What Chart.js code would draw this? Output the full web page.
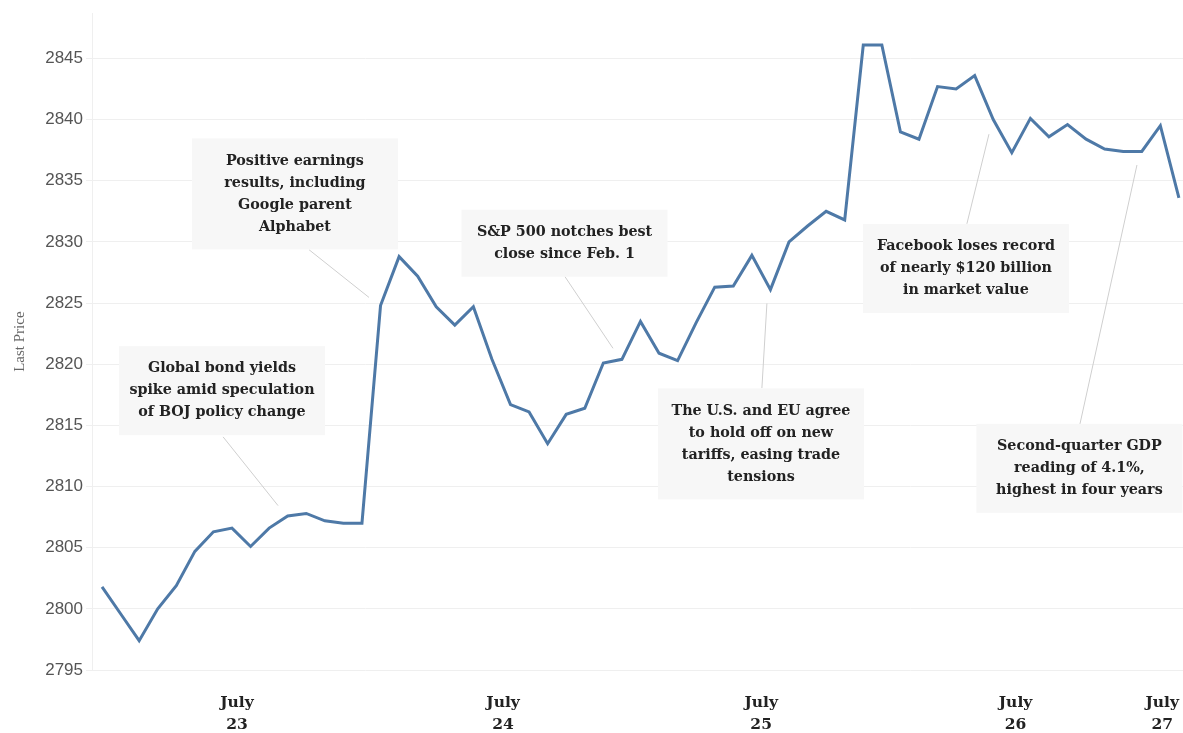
<!DOCTYPE html>
<html lang="en">
<head>
<meta charset="UTF-8">
<title>S&amp;P 500 last price</title>
<script src="https://cdn.jsdelivr.net/npm/chart.js@4"></script>
<style>
    body { margin: 0; background: #ffffff; }
    #wrap { width: 1183px; height: 733px; position: relative; }
</style>
</head>
<body>
<div id="wrap"><canvas id="priceChart" width="1183" height="733"></canvas></div>
<script>
// Last price readings, one per interval, July 23 - July 27
const prices = [
    2801.8, 2799.6, 2797.4, 2800.0, 2801.9, 2804.7, 2806.3, 2806.6, 2805.1, 2806.6,
    2807.6, 2807.8, 2807.2, 2807.0, 2807.0, 2824.8, 2828.8, 2827.2, 2824.7, 2823.2,
    2824.7, 2820.4, 2816.7, 2816.1, 2813.5, 2815.9, 2816.4, 2820.1, 2820.4, 2823.5,
    2820.9, 2820.3, 2823.4, 2826.3, 2826.4, 2828.9, 2826.1, 2830.0, 2831.3, 2832.5,
    2831.8, 2846.1, 2846.1, 2839.0, 2838.4, 2842.7, 2842.5, 2843.6, 2840.0, 2837.3,
    2840.1, 2838.6, 2839.6, 2838.4, 2837.6, 2837.4, 2837.4, 2839.5, 2833.6
];

// day labels and where they sit along the interval axis
const dayTickPos = [7.27, 21.6, 35.5, 49.2, 57.1];
const dayTickLabels = [['July', '23'], ['July', '24'], ['July', '25'], ['July', '26'], ['July', '27']];

const yTicks = [2795, 2800, 2805, 2810, 2815, 2820, 2825, 2830, 2835, 2840, 2845];

// annotation text, box centre and leader line, in data units
const notes = [
    { text: ['Global bond yields', 'spike amid speculation', 'of BOJ policy change'],
      x: 6.46, y: 2817.84, from: [6.52, 2814.06], to: [9.48, 2808.44] },
    { text: ['Positive earnings', 'results, including', 'Google parent', 'Alphabet'],
      x: 10.39, y: 2833.93, from: [11.15, 2829.36], to: [14.38, 2825.46] },
    { text: ['S&P 500 notches best', 'close since Feb. 1'],
      x: 24.91, y: 2829.89, from: [24.93, 2827.17], to: [27.52, 2821.30] },
    { text: ['The U.S. and EU agree', 'to hold off on new', 'tariffs, easing trade', 'tensions'],
      x: 35.49, y: 2813.49, from: [35.54, 2818.05], to: [35.81, 2824.97] },
    { text: ['Facebook loses record', 'of nearly $120 billion', 'in market value'],
      x: 46.53, y: 2827.82, from: [46.58, 2831.48], to: [47.77, 2838.81] },
    { text: ['Second-quarter GDP', 'reading of 4.1%,', 'highest in four years'],
      x: 52.64, y: 2811.49, from: [52.67, 2815.11], to: [55.74, 2836.29] }
];

const SERIF = '"DejaVu Serif", "Liberation Serif", serif';

// draws the grey boxes and leader lines behind the price line
const notesPlugin = {
    id: 'notes',
    beforeDatasetsDraw(chart) {
        const ctx = chart.ctx;
        const xs = chart.scales.x, ys = chart.scales.y;
        ctx.save();
        notes.forEach(n => {
            const lineH = 22;
            const w = 206, h = n.text.length * lineH + 23;
            const cx = xs.getPixelForValue(n.x), cy = ys.getPixelForValue(n.y);

            ctx.strokeStyle = '#cfcfcf';
            ctx.lineWidth = 1;
            ctx.beginPath();
            ctx.moveTo(xs.getPixelForValue(n.from[0]), ys.getPixelForValue(n.from[1]));
            ctx.lineTo(xs.getPixelForValue(n.to[0]), ys.getPixelForValue(n.to[1]));
            ctx.stroke();

            ctx.fillStyle = '#f7f7f7';
            ctx.fillRect(cx - w / 2, cy - h / 2, w, h);

            ctx.fillStyle = '#222222';
            ctx.font = 'bold 14.3px ' + SERIF;
            ctx.textAlign = 'center';
            ctx.textBaseline = 'middle';
            const top = cy - (n.text.length - 1) * lineH / 2;
            n.text.forEach((t, i) => ctx.fillText(t, cx, top + i * lineH));
        });
        ctx.restore();
    }
};

const ctx = document.getElementById('priceChart').getContext('2d');
new Chart(ctx, {
    type: 'line',
    data: {
        datasets: [{
            data: prices.map((p, i) => ({ x: i, y: p })),
            borderColor: '#4e79a7',
            borderWidth: 3,
            pointRadius: 0,
            tension: 0,
            fill: false
        }]
    },
    options: {
        responsive: false,
        animation: false,
        layout: { padding: { top: 11, right: 0, bottom: 0, left: 0 } },
        plugins: { legend: { display: false }, tooltip: { enabled: false } },
        scales: {
            x: {
                type: 'linear',
                min: -0.54,
                max: 58.22,
                afterBuildTicks: s => { s.ticks = dayTickPos.map(v => ({ value: v })); },
                afterFit: s => { s.height = 63; s.paddingLeft = 0; s.paddingRight = 0; },
                grid: { display: false, drawTicks: false },
                border: { display: false },
                ticks: {
                    autoSkip: false,
                    maxRotation: 0,
                    padding: 22,
                    color: '#222222',
                    font: { family: SERIF, size: 15.5, weight: 'bold', lineHeight: 1.42 },
                    callback: (v, i) => dayTickLabels[i]
                }
            },
            y: {
                min: 2795,
                max: 2848.7,
                afterBuildTicks: s => { s.ticks = yTicks.map(v => ({ value: v })); },
                afterFit: s => { s.width = 92; },
                grid: { color: '#efefef', lineWidth: 1, drawTicks: true, tickLength: 6 },
                border: { display: true, color: '#efefef' },
                ticks: {
                    color: '#555555',
                    padding: 3,
                    font: { family: '"Liberation Sans", Arial, sans-serif', size: 17 },
                    callback: v => String(v)
                },
                title: {
                    display: true,
                    text: 'Last Price',
                    color: '#666666',
                    font: { family: '"Liberation Serif", serif', size: 15 },
                    padding: { top: 11, bottom: 0 }
                }
            }
        }
    },
    plugins: [notesPlugin]
});
</script>
</body>
</html>
